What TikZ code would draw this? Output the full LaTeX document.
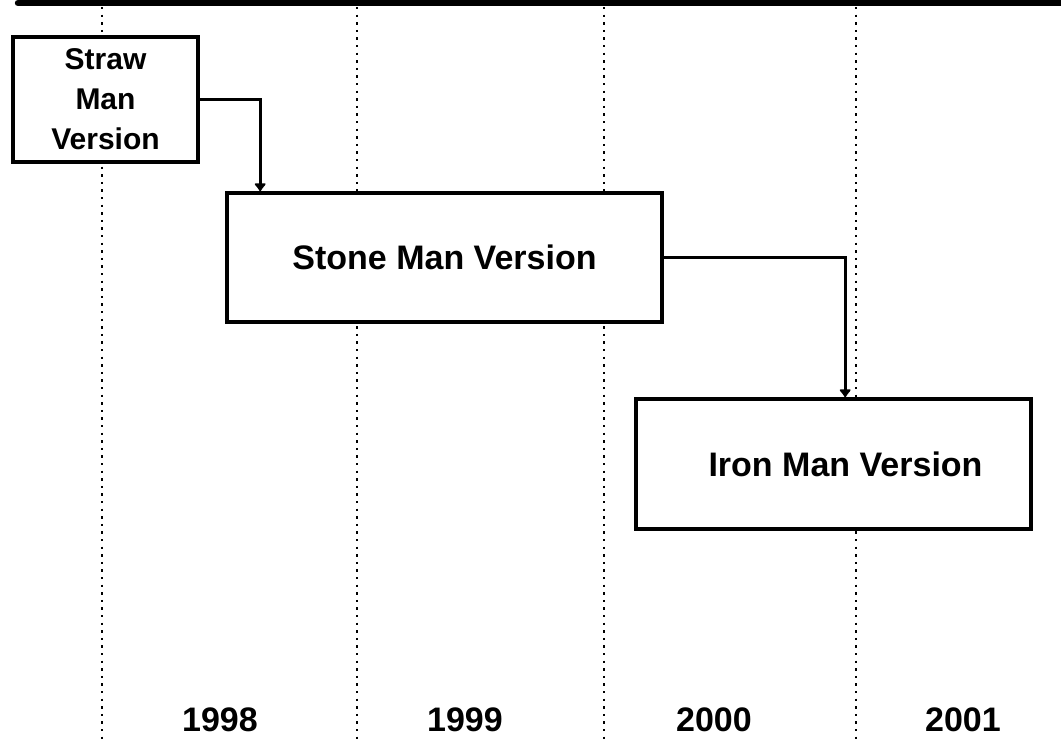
\documentclass[tikz,border=0pt]{standalone}
\usepackage{fontspec}
\setmainfont{Liberation Sans}
\usetikzlibrary{arrows.meta,calc}

\tikzset{
  version/.style={draw,fill=white,line width=1.8pt,inner sep=0pt,align=center,
    font=\fontsize{17}{20}\selectfont\bfseries},
  link/.style={line width=1.5pt,-{Latex[length=4.5pt,width=7pt,round]}},
  yearline/.style={line width=0.9pt,dash pattern=on 1.2pt off 2.6pt},
  year/.style={font=\fontsize{17}{20}\selectfont\bfseries,anchor=base}
}

\begin{document}
\begin{tikzpicture}[x=0.5pt,y=-0.5pt]
    \useasboundingbox (0,0) rectangle (1061,740);

    % Top bar
    \draw[line width=3.2pt,line cap=round] (18,3) -- (1066,3);

    % Year separators
    \foreach \xx in {102,357,604,856}
        \draw[yearline] (\xx,7) -- (\xx,740);

    % Versions
    \node[version,minimum width=92.5pt,minimum height=62.5pt,
          font=\fontsize{15}{20}\selectfont\bfseries]
        (straw) at (105.5,99.5) {Straw\\Man\\Version};
    \node[version,minimum width=217.5pt,minimum height=64.5pt]
        (stone) at (444.5,257.5) {Stone Man Version};
    \node[version,minimum width=197.5pt,minimum height=65pt]
        (iron) at (833.5,464) {\hspace{12pt}Iron Man Version};

    % Links
    \draw[link] (straw.east) -| ($(stone.north west)+(35,0)$);
    \draw[link] (stone.east) -| ($(iron.north west)+(211,0)$);

    % Years
    \foreach \xx/\yr in {220/1998,465/1999,714/2000,963/2001}
        \node[year] (y\yr) at (\xx,731) {\yr};
\end{tikzpicture}
\end{document}
